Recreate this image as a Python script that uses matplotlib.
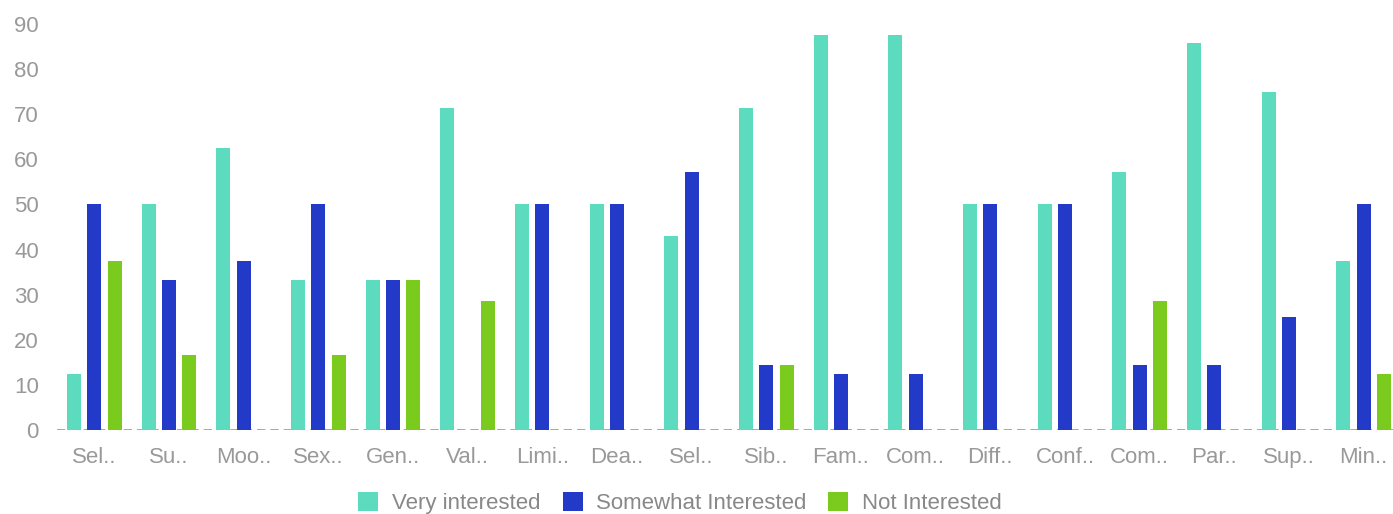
import matplotlib.pyplot as plt
import numpy as np

# =====================================================
# DATA
# =====================================================
categories = ["Sel..", "Su..", "Moo..", "Sex..", "Gen..", "Val..", "Limi..", "Dea..", "Sel..",
              "Sib..", "Fam..", "Com..", "Diff..", "Conf..", "Com..", "Par..", "Sup..", "Min.."]
very_interested = [12.5, 50, 62.5, 33.3, 33.3, 71.4, 50, 50, 42.9,
                   71.4, 87.5, 87.5, 50, 50, 57.1, 85.7, 75, 37.5]
somewhat_interested = [50, 33.3, 37.5, 50, 33.3, 0, 50, 50, 57.1,
                       14.3, 12.5, 12.5, 50, 50, 14.3, 14.3, 25, 50]
not_interested = [37.5, 16.7, 0, 16.7, 33.3, 28.6, 0, 0, 0,
                  14.3, 0, 0, 0, 0, 28.6, 0, 0, 12.5]
series_names = ["Very interested", "Somewhat Interested", "Not Interested"]
colors = ["#5ddbbf", "#2339c8", "#7bcb1e"]

plt.rcParams["font.family"] = ["Liberation Sans", "DejaVu Sans"]

# =====================================================
# PLOT
# =====================================================
fig = plt.figure(figsize=(13.93, 5.14), dpi=100)
ax = fig.add_axes([57 / 1393, 84 / 514, 1344 / 1393, 406 / 514])

x = np.arange(len(categories))
pitch = 0.274
width = 0.187
for i, (vals, name, c) in enumerate(zip(
        [very_interested, somewhat_interested, not_interested], series_names, colors)):
    ax.bar(x + (i - 1) * pitch, vals, width=width, color=c, label=name, zorder=2)

# dashed baseline
ax.axhline(0, color="#999999", linestyle=(0, (5, 3)), linewidth=1.2, zorder=1)

ax.set_xlim(-0.5, len(categories) - 0.5)
ax.set_ylim(0, 90)
ax.set_yticks(range(0, 91, 10))
ax.set_xticks(x)
ax.set_xticklabels(categories)
ax.tick_params(axis="both", length=0, labelsize=16, colors="#999999")
ax.tick_params(axis="y", pad=13)
ax.tick_params(axis="x", pad=12)
for s in ax.spines.values():
    s.set_visible(False)

leg = fig.legend(loc="center", bbox_to_anchor=(680 / 1393, 11 / 514), ncol=3,
                 frameon=False, fontsize=16, handlelength=0.9, handleheight=0.9,
                 handletextpad=0.6, columnspacing=1.0)
for t in leg.get_texts():
    t.set_color("#888888")

fig.savefig("out.png", dpi=100)
